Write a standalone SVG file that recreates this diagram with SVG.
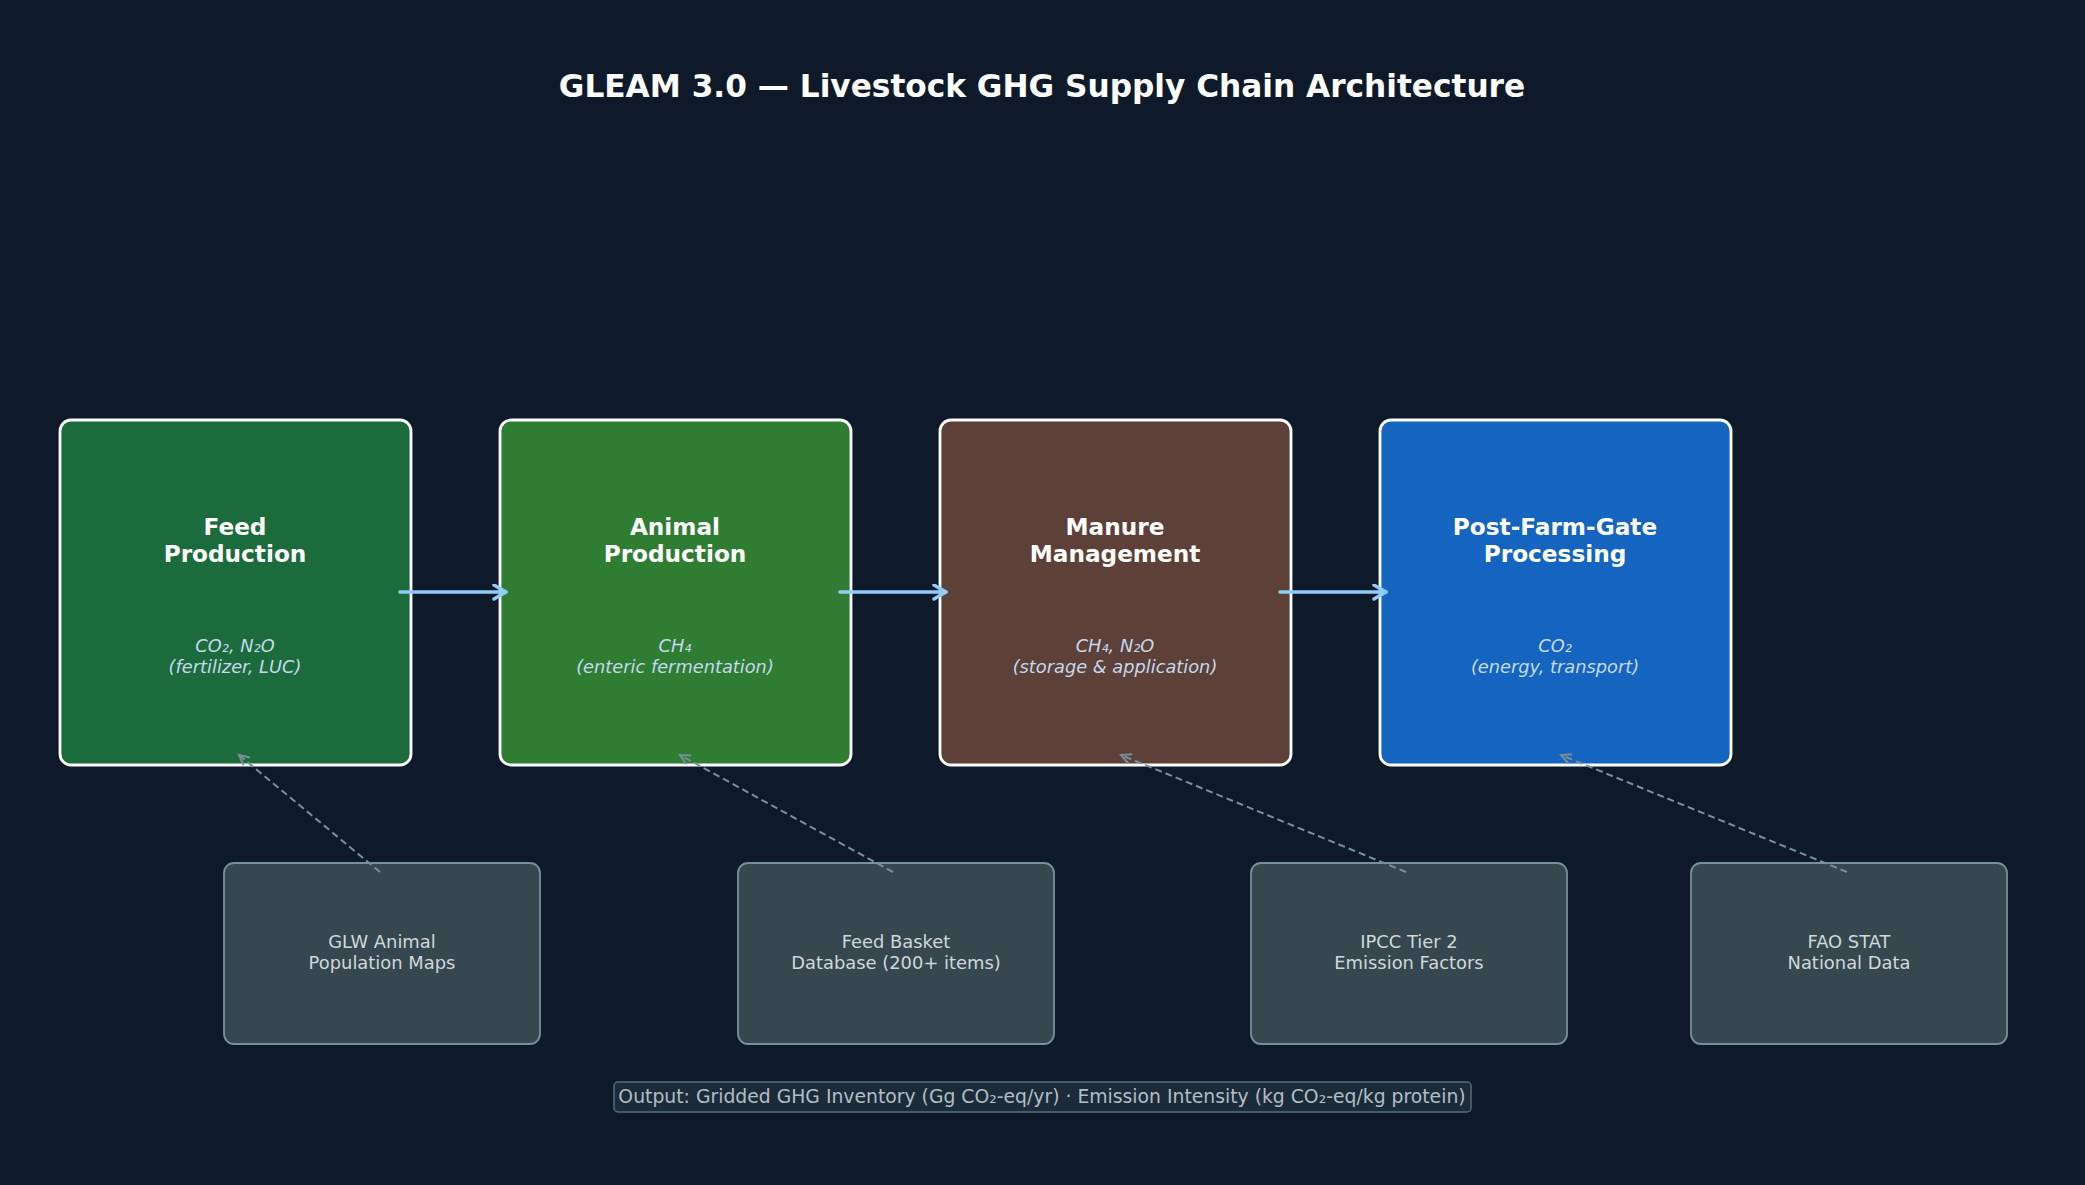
<svg xmlns="http://www.w3.org/2000/svg" width="2085" height="1185" viewBox="0 0 2085 1185">
<defs>
<style>
.bg{fill:#0e1a2a}
.main{stroke:#ffffff;stroke-width:2.8}
.ttl{font-family:"DejaVu Sans",sans-serif;font-weight:bold;fill:#ffffff;text-anchor:middle}
.nt{font-family:"DejaVu Sans",sans-serif;font-weight:bold;font-size:23.2px;fill:#ffffff;text-anchor:middle}
.sub{font-family:"DejaVu Sans",sans-serif;font-style:italic;font-size:17.8px;fill:#c6d8ee;text-anchor:middle}
.src{fill:#37474f;stroke:#78909c;stroke-width:1.8}
.st{font-family:"DejaVu Sans",sans-serif;font-size:17.9px;fill:#cfd8dc;text-anchor:middle}
.flow{stroke:#90caf9;stroke-width:3.5;fill:none;stroke-linecap:round}
.dash{stroke:#78909c;stroke-width:2;fill:none;stroke-dasharray:7 4}
.foot{font-family:"DejaVu Sans",sans-serif;font-size:18.8px;fill:#b0bec5;text-anchor:middle}
</style>
<marker id="ah" markerUnits="userSpaceOnUse" markerWidth="20" markerHeight="20" refX="14" refY="8" orient="auto">
<path d="M2,1 L14,8 L2,15" fill="none" stroke="#90caf9" stroke-width="3.5" stroke-linecap="round" stroke-linejoin="round"/>
</marker>
<marker id="dh" markerUnits="userSpaceOnUse" markerWidth="16" markerHeight="16" refX="12" refY="8" orient="auto">
<path d="M2,3 L12,8 L2,13" fill="none" stroke="#78909c" stroke-width="2"/>
</marker>
</defs>
<rect class="bg" x="0" y="0" width="2085" height="1185"/>
<text class="ttl" x="1042" y="97" font-size="31.2">GLEAM 3.0 — Livestock GHG Supply Chain Architecture</text>

<g id="feed">
<rect class="main" x="60" y="420" width="351" height="345" rx="11" fill="#1b6b3c"/>
<text class="nt" x="235" y="535">Feed</text>
<text class="nt" x="235" y="562">Production</text>
<text class="sub" x="235" y="652">CO₂, N₂O</text>
<text class="sub" x="235" y="673">(fertilizer, LUC)</text>
</g>
<g id="animal">
<rect class="main" x="500" y="420" width="351" height="345" rx="11" fill="#2e7d32"/>
<text class="nt" x="675" y="535">Animal</text>
<text class="nt" x="675" y="562">Production</text>
<text class="sub" x="675" y="652">CH₄</text>
<text class="sub" x="675" y="673">(enteric fermentation)</text>
</g>
<g id="manure">
<rect class="main" x="940" y="420" width="351" height="345" rx="11" fill="#5d4037"/>
<text class="nt" x="1115" y="535">Manure</text>
<text class="nt" x="1115" y="562">Management</text>
<text class="sub" x="1115" y="652">CH₄, N₂O</text>
<text class="sub" x="1115" y="673">(storage &amp; application)</text>
</g>
<g id="postfarm">
<rect class="main" x="1380" y="420" width="351" height="345" rx="11" fill="#1565c0"/>
<text class="nt" x="1555" y="535">Post-Farm-Gate</text>
<text class="nt" x="1555" y="562">Processing</text>
<text class="sub" x="1555" y="652">CO₂</text>
<text class="sub" x="1555" y="673">(energy, transport)</text>
</g>

<g id="glw">
<rect class="src" x="224" y="863" width="316" height="181" rx="10"/>
<text class="st" x="382" y="948">GLW Animal</text>
<text class="st" x="382" y="969">Population Maps</text>
</g>
<g id="feedbasket">
<rect class="src" x="738" y="863" width="316" height="181" rx="10"/>
<text class="st" x="896" y="948">Feed Basket</text>
<text class="st" x="896" y="969">Database (200+ items)</text>
</g>
<g id="ipcc">
<rect class="src" x="1251" y="863" width="316" height="181" rx="10"/>
<text class="st" x="1409" y="948">IPCC Tier 2</text>
<text class="st" x="1409" y="969">Emission Factors</text>
</g>
<g id="faostat">
<rect class="src" x="1691" y="863" width="316" height="181" rx="10"/>
<text class="st" x="1849" y="948">FAO STAT</text>
<text class="st" x="1849" y="969">National Data</text>
</g>

<g id="connectors">
<line class="flow" x1="400" y1="592" x2="506" y2="592" marker-end="url(#ah)"/>
<line class="flow" x1="840" y1="592" x2="946" y2="592" marker-end="url(#ah)"/>
<line class="flow" x1="1280" y1="592" x2="1386" y2="592" marker-end="url(#ah)"/>
<line class="dash" x1="380" y1="872" x2="239" y2="755" marker-end="url(#dh)"/>
<line class="dash" x1="893" y1="872" x2="680" y2="755" marker-end="url(#dh)"/>
<line class="dash" x1="1406" y1="872" x2="1121" y2="755" marker-end="url(#dh)"/>
<line class="dash" x1="1847" y1="872" x2="1561" y2="755" marker-end="url(#dh)"/>
</g>

<g id="footer">
<rect x="614" y="1082" width="857" height="30" rx="4" fill="#1c2b3a" stroke="#546e7a" stroke-width="1.5"/>
<text class="foot" x="1042" y="1103">Output: Gridded GHG Inventory (Gg CO₂-eq/yr) · Emission Intensity (kg CO₂-eq/kg protein)</text>
</g>
</svg>
